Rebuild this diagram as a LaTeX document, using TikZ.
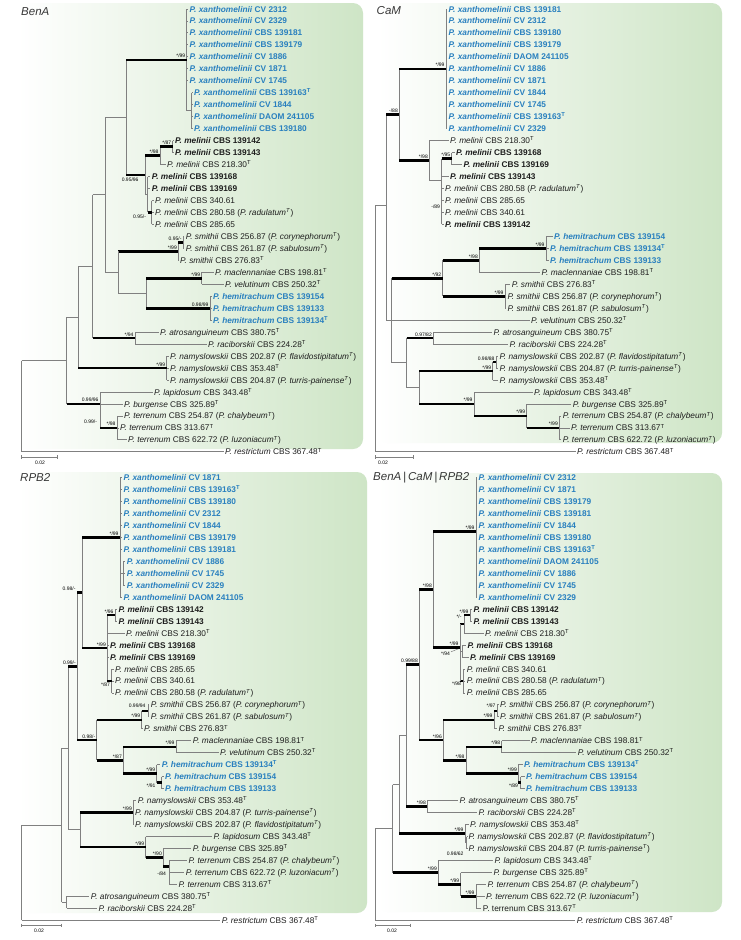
\documentclass[tikz,border=0pt]{standalone}
\usepackage{fontspec}
\setmainfont{Liberation Sans}
\definecolor{blu}{RGB}{41,128,191}
\definecolor{pg}{RGB}{206,229,198}
\definecolor{brg}{RGB}{128,128,128}
\definecolor{txt}{RGB}{30,30,30}
\definecolor{ttl}{RGB}{55,55,55}
\newcounter{nc}
\newcommand\yb{9}
\newcommand\Rw[1]{\yb+11.97*(#1)}
\newcommand\Lf[4]{\stepcounter{nc}%
  \draw[br] (#1,{\Rw{#3}}) -- ({#2-1.3},{\Rw{#3}});%
  \node[leaf] (L\arabic{nc}) at (#2,{\Rw{#3}+3}) {#4};}
\newcommand\Vb[3]{\draw[br] (#1,{#2}) -- (#1,{#3});}
\newcommand\Hb[3]{\draw[br] (#1,{#3}) -- (#2,{#3});}
\newcommand\Tk[3]{\draw[tk] (#1,{#3}) -- (#2,{#3});}
\newcommand\Tb[4]{\stepcounter{nc}\draw[tk] (#1,{#3}) -- (#2,{#3});%
  \node[slb,anchor=south east] (S\arabic{nc}) at ({#2-1},{#3-1.5}) {#4};}
\newcommand\Slab[4]{\stepcounter{nc}\node[slb,anchor=#1] (S\arabic{nc}) at (#2,{#3}) {#4};}
\newcommand\Sbar[4]{\stepcounter{nc}\draw[br,line width=0.7pt] (#1,#3) -- (#2,#3);
  \draw[br,line width=0.7pt] (#1,#3-1.8) -- (#1,#3+1.8);
  \draw[br,line width=0.7pt] (#2,#3-1.8) -- (#2,#3+1.8);
  \node[slb] (B\arabic{nc}) at (#4,#3+5.5) {0.02};}
\newcommand\xan[1]{\textcolor{blu}{\textbf{\textit{P. xanthomelinii}} \textbf{#1}}}
\newcommand\hem[1]{\textcolor{blu}{\textbf{\textit{P. hemitrachum}} \textbf{#1}}}
\newcommand\mb[1]{\textbf{\textit{P. melinii}} \textbf{#1}}
\newcommand\nm[2]{\textit{P. #1} #2}
\newcommand\ty{\textsuperscript{T}}
\newcommand\tyi{\textsuperscript{\textit{T}}}
\begin{document}
\begin{tikzpicture}[x=1pt,y=-1pt,
  br/.style={line width=0.9pt,color=brg},
  tk/.style={line width=2.6pt,black},
  leaf/.style={anchor=base west,inner sep=0pt,font=\fontsize{8.3}{10}\selectfont,text=txt},
  slb/.style={inner sep=0.3pt,font=\fontsize{5}{5}\selectfont,text=black},
  ttlst/.style={anchor=west,inner sep=0pt,font=\fontsize{11.5}{12}\selectfont\itshape,text=ttl}]
\useasboundingbox (0,0) rectangle (741,940);
\fill[white] (0,0) rectangle (741,940);
% panels
\shade[left color=white,right color=pg,rounded corners=10pt] (18,3) rectangle (363,449);
\shade[left color=white,right color=pg,rounded corners=10pt] (378,3) rectangle (722,443);
\shade[left color=white,right color=pg,rounded corners=10pt] (18,472) rectangle (367,913);
\shade[left color=white,right color=pg,rounded corners=10pt] (378,473) rectangle (722,912);
% titles
\node[ttlst] (t1) at (21,11.7) {BenA};
\node[ttlst] (t2) at (376.5,11) {CaM};
\node[ttlst] (t3) at (20,477.3) {RPB2};
\node[ttlst] (t4) at (373,477.3) {BenA\,|\,CaM\,|\,RPB2};

%%%%%%%%%%%%%%%% TREE 1 BenA
\renewcommand\yb{9}
\Vb{186.7}{\Rw{0}}{\Rw{8.5}}
\Vb{191.5}{\Rw{7}}{\Rw{10}}
\Hb{186.7}{191.5}{\Rw{8.5}}
\Vb{126}{\Rw{4.25}}{\Rw{13.875}}
\Tb{126}{186.7}{\Rw{4.25}}{*/99}
\Vb{172.7}{\Rw{11}}{\Rw{12}}
\Vb{160}{\Rw{11.5}}{\Rw{13}}
\Tb{160}{172.7}{\Rw{11.5}}{*/87}
\Vb{145}{\Rw{12.25}}{\Rw{15.5}}
\Tb{145}{160}{\Rw{12.25}}{*/98}
\Vb{147.7}{\Rw{14}}{\Rw{17}}
\Hb{145}{147.7}{\Rw{15.5}}
\Vb{151.7}{\Rw{16}}{\Rw{18}}
\Tk{147.7}{151.7}{\Rw{17}}
\Slab{east}{146.5}{217}{0.95/-}
\Tk{126}{145}{\Rw{13.875}}
\Slab{north east}{139}{\Rw{13.875}+1.8}{0.95/96}
\Hb{105}{126}{\Rw{9.0625}}
\Vb{183}{\Rw{19}}{\Rw{20}}
\Vb{178.3}{\Rw{19.5}}{\Rw{21}}
\Tb{178.3}{183}{\Rw{19.5}}{0.95/-}
\Tb{118.3}{178.3}{\Rw{20.25}}{*/99}
\Vb{201.7}{\Rw{22}}{\Rw{23}}
\Vb{210}{\Rw{24}}{\Rw{26}}
\Vb{146}{\Rw{22.5}}{\Rw{25}}
\Tb{146}{201.7}{\Rw{22.5}}{*/99}
\Tb{146}{210}{\Rw{25}}{0.98/99}
\Hb{118.3}{146}{\Rw{23.75}}
\Vb{118.3}{\Rw{20.25}}{\Rw{23.75}}
\Hb{105}{118.3}{\Rw{22}}
\Vb{105}{\Rw{9.0625}}{\Rw{22}}
\Hb{92.7}{105}{\Rw{15.53}}
\Vb{135}{\Rw{27}}{\Rw{28}}
\Vb{92.7}{\Rw{15.53}}{\Rw{27.5}}
\Tb{92.7}{135}{\Rw{27.5}}{*/94}
\Hb{78.3}{92.7}{\Rw{21.515}}
\Vb{166.7}{\Rw{29}}{\Rw{31}}
\Vb{78.3}{\Rw{21.515}}{\Rw{30}}
\Tb{78.3}{166.7}{\Rw{30}}{*/99}
\Hb{66.7}{78.3}{\Rw{25.76}}
\Vb{117}{\Rw{34}}{\Rw{36}}
\Vb{100}{\Rw{32}}{\Rw{35}}
\Tb{100}{117}{\Rw{35}}{*/98}
\Slab{east}{97.5}{421.5}{0.99/-}
\Vb{66.7}{\Rw{25.76}}{\Rw{33}}
\Tb{66.7}{100}{\Rw{33}}{0.99/96}
\Hb{21.7}{66.7}{\Rw{29.38}}
\Vb{21.7}{\Rw{29.38}}{\Rw{37}}
\Lf{186.7}{189.5}{0}{\xan{CV 2312}}
\Lf{186.7}{189.5}{1}{\xan{CV 2329}}
\Lf{186.7}{189.5}{2}{\xan{CBS 139181}}
\Lf{186.7}{189.5}{3}{\xan{CBS 139179}}
\Lf{186.7}{189.5}{4}{\xan{CV 1886}}
\Lf{186.7}{189.5}{5}{\xan{CV 1871}}
\Lf{186.7}{189.5}{6}{\xan{CV 1745}}
\Lf{191.5}{194}{7}{\xan{CBS 139163\ty}}
\Lf{191.5}{194}{8}{\xan{CV 1844}}
\Lf{191.5}{194}{9}{\xan{DAOM 241105}}
\Lf{191.5}{194}{10}{\xan{CBS 139180}}
\Lf{172.7}{175}{11}{\mb{CBS 139142}}
\Lf{172.7}{175}{12}{\mb{CBS 139143}}
\Lf{160}{167}{13}{\nm{melinii}{CBS 218.30\ty}}
\Lf{147.7}{151.7}{14}{\mb{CBS 139168}}
\Lf{147.7}{151.7}{15}{\mb{CBS 139169}}
\Lf{151.7}{155}{16}{\nm{melinii}{CBS 340.61}}
\Lf{151.7}{155}{17}{\nm{melinii}{CBS 280.58 (\textit{P. radulatum}\tyi)}}
\Lf{151.7}{155}{18}{\nm{melinii}{CBS 285.65}}
\Lf{183}{185.7}{19}{\nm{smithii}{CBS 256.87 (\textit{P. corynephorum}\tyi)}}
\Lf{183}{185.7}{20}{\nm{smithii}{CBS 261.87 (\textit{P. sabulosum}\tyi)}}
\Lf{178.3}{180}{21}{\nm{smithii}{CBS 276.83\ty}}
\Lf{201.7}{215}{22}{\nm{maclennaniae}{CBS 198.81\ty}}
\Lf{201.7}{225}{23}{\nm{velutinum}{CBS 250.32\ty}}
\Lf{210}{213}{24}{\hem{CBS 139154}}
\Lf{210}{213}{25}{\hem{CBS 139133}}
\Lf{210}{213}{26}{\hem{CBS 139134\ty}}
\Lf{135}{160}{27}{\nm{atrosanguineum}{CBS 380.75\ty}}
\Lf{135}{208}{28}{\nm{raciborskii}{CBS 224.28\ty}}
\Lf{166.7}{170}{29}{\nm{namyslowskii}{CBS 202.87 (\textit{P. flavidostipitatum}\tyi)}}
\Lf{166.7}{170}{30}{\nm{namyslowskii}{CBS 353.48\ty}}
\Lf{166.7}{170}{31}{\nm{namyslowskii}{CBS 204.87 (\textit{P. turris-painense}\tyi)}}
\Lf{100}{154}{32}{\nm{lapidosum}{CBS 343.48\ty}}
\Lf{100}{124}{33}{\nm{burgense}{CBS 325.89\ty}}
\Lf{117}{124}{34}{\nm{terrenum}{CBS 254.87 (\textit{P. chalybeum}\tyi)}}
\Lf{117}{120}{35}{\nm{terrenum}{CBS 313.67\ty}}
\Lf{117}{128}{36}{\nm{terrenum}{CBS 622.72 (\textit{P. luzoniacum}\tyi)}}
\Lf{21.7}{225}{37}{\nm{restrictum}{CBS 367.48\ty}}
\Sbar{21.7}{57.3}{457}{40}

%%%%%%%%%%%%%%%% TREE 2 CaM
\renewcommand\yb{9}
\Vb{446}{\Rw{0}}{\Rw{10}}
\Vb{399.3}{\Rw{5}}{160.3}
\Tb{399.3}{446}{\Rw{5}}{*/99}
\Vb{451.7}{\Rw{12}}{\Rw{13}}
\Vb{441.7}{\Rw{12.5}}{\Rw{18}}
\Tb{441.7}{451.7}{\Rw{12.5}}{*/95}
\Vb{429.3}{\Rw{11}}{180}
\Hb{429.3}{441.7}{180}
\Tb{399.3}{429.3}{160.3}{*/98}
\Slab{east}{440.5}{206.7}{-/89}
\Vb{386}{114.6}{\Rw{26.03}}
\Tb{386}{399.3}{114.6}{-/88}
\Vb{546}{\Rw{19}}{\Rw{21}}
\Vb{479.3}{\Rw{20}}{\Rw{22}}
\Tb{479.3}{546}{\Rw{20}}{*/99}
\Vb{505}{\Rw{23}}{\Rw{25}}
\Vb{442.7}{\Rw{21}}{\Rw{24}}
\Tb{442.7}{479.3}{\Rw{21}}{*/98}
\Tb{442.7}{505}{\Rw{24}}{*/99}
\Vb{391.7}{\Rw{22.5}}{\Rw{29.56}}
\Tb{391.7}{442.7}{\Rw{22.5}}{*/92}
\Hb{386}{391.7}{\Rw{26.03}}
\Vb{433.3}{\Rw{27}}{\Rw{28}}
\Vb{406.7}{\Rw{27.5}}{\Rw{31.625}}
\Tb{406.7}{433.3}{\Rw{27.5}}{0.97/82}
\Hb{391.7}{406.7}{\Rw{29.56}}
\Vb{496}{\Rw{29}}{\Rw{30}}
\Vb{492.7}{\Rw{29.5}}{\Rw{31}}
\Tb{492.7}{496}{\Rw{29.5}}{0.98/88}
\Vb{419.3}{\Rw{30.25}}{\Rw{33}}
\Tb{419.3}{492.7}{\Rw{30.25}}{*/99}
\Hb{406.7}{419.3}{\Rw{31.625}}
\Vb{559.3}{\Rw{34}}{\Rw{36}}
\Vb{526.7}{\Rw{33}}{\Rw{35}}
\Tb{526.7}{559.3}{\Rw{35}}{*/99}
\Vb{474}{\Rw{32}}{\Rw{34}}
\Tb{474}{526.7}{\Rw{34}}{*/99}
\Tb{419.3}{474}{\Rw{33}}{*/99}
\Hb{375}{386}{205}
\Vb{375}{205}{\Rw{37}}
\Lf{446}{448.5}{0}{\xan{CBS 139181}}
\Lf{446}{448.5}{1}{\xan{CV 2312}}
\Lf{446}{448.5}{2}{\xan{CBS 139180}}
\Lf{446}{448.5}{3}{\xan{CBS 139179}}
\Lf{446}{448.5}{4}{\xan{DAOM 241105}}
\Lf{446}{448.5}{5}{\xan{CV 1886}}
\Lf{446}{448.5}{6}{\xan{CV 1871}}
\Lf{446}{448.5}{7}{\xan{CV 1844}}
\Lf{446}{448.5}{8}{\xan{CV 1745}}
\Lf{446}{448.5}{9}{\xan{CBS 139163\ty}}
\Lf{446}{448.5}{10}{\xan{CV 2329}}
\Lf{429.3}{450}{11}{\nm{melinii}{CBS 218.30\ty}}
\Lf{451.7}{456}{12}{\mb{CBS 139168}}
\Lf{451.7}{463.5}{13}{\mb{CBS 139169}}
\Lf{441.7}{450}{14}{\mb{CBS 139143}}
\Lf{441.7}{445}{15}{\nm{melinii}{CBS 280.58 (\textit{P. radulatum}\tyi)}}
\Lf{441.7}{445}{16}{\nm{melinii}{CBS 285.65}}
\Lf{441.7}{445}{17}{\nm{melinii}{CBS 340.61}}
\Lf{441.7}{445}{18}{\mb{CBS 139142}}
\Lf{546}{554}{19}{\hem{CBS 139154}}
\Lf{546}{550}{20}{\hem{CBS 139134\ty}}
\Lf{546}{550}{21}{\hem{CBS 139133}}
\Lf{479.3}{541.5}{22}{\nm{maclennaniae}{CBS 198.81\ty}}
\Lf{505}{511.7}{23}{\nm{smithii}{CBS 276.83\ty}}
\Lf{505}{507.3}{24}{\nm{smithii}{CBS 256.87 (\textit{P. corynephorum}\tyi)}}
\Lf{505}{507.3}{25}{\nm{smithii}{CBS 261.87 (\textit{P. sabulosum}\tyi)}}
\Lf{391.7}{531}{26}{\nm{velutinum}{CBS 250.32\ty}}
\Lf{433.3}{493.3}{27}{\nm{atrosanguineum}{CBS 380.75\ty}}
\Lf{433.3}{509.3}{28}{\nm{raciborskii}{CBS 224.28\ty}}
\Lf{496}{499.3}{29}{\nm{namyslowskii}{CBS 202.87 (\textit{P. flavidostipitatum}\tyi)}}
\Lf{496}{499.3}{30}{\nm{namyslowskii}{CBS 204.87 (\textit{P. turris-painense}\tyi)}}
\Lf{492.7}{499.3}{31}{\nm{namyslowskii}{CBS 353.48\ty}}
\Lf{474}{534}{32}{\nm{lapidosum}{CBS 343.48\ty}}
\Lf{526.7}{572.7}{33}{\nm{burgense}{CBS 325.89\ty}}
\Lf{559.3}{562.7}{34}{\nm{terrenum}{CBS 254.87 (\textit{P. chalybeum}\tyi)}}
\Lf{559.3}{571}{35}{\nm{terrenum}{CBS 313.67\ty}}
\Lf{559.3}{562.7}{36}{\nm{terrenum}{CBS 622.72 (\textit{P. luzoniacum}\tyi)}}
\Lf{375}{577}{37}{\nm{restrictum}{CBS 367.48\ty}}
\Sbar{375}{413.3}{457}{383}

%%%%%%%%%%%%%%%% TREE 3 RPB2
\renewcommand\yb{477.5}
\Vb{120}{\Rw{0}}{\Rw{10}}
\Vb{123}{\Rw{7}}{\Rw{9}}
\Hb{120}{123}{\Rw{8}}
\Vb{82.3}{\Rw{5}}{\Rw{14.25}}
\Tb{82.3}{120}{\Rw{5}}{*/99}
\Vb{115}{\Rw{11}}{\Rw{12}}
\Vb{111.7}{\Rw{16}}{\Rw{18}}
\Vb{107.3}{\Rw{11.5}}{\Rw{17}}
\Tb{107.3}{115}{\Rw{11.5}}{*/96}
\Tk{107.3}{111.7}{\Rw{17}}
\Slab{east}{110.5}{684.3}{*/87}
\Tb{82.3}{107.3}{\Rw{14.25}}{*/99}
\Vb{148.3}{\Rw{19}}{\Rw{20}}
\Vb{141.7}{\Rw{19.5}}{\Rw{21}}
\Tk{141.7}{148.3}{\Rw{19.5}}
\Slab{south east}{146}{\Rw{19.5}-2.5}{0.99/94}
\Tb{96.7}{141.7}{\Rw{20.25}}{*/99}
\Vb{176}{\Rw{22}}{\Rw{23}}
\Vb{161.7}{\Rw{25}}{\Rw{26}}
\Vb{156.7}{\Rw{24}}{\Rw{25.5}}
\Tk{156.7}{161.7}{\Rw{25.5}}
\Slab{east}{156}{786}{*/91}
\Vb{123.3}{\Rw{22.5}}{\Rw{24.75}}
\Tb{123.3}{176}{\Rw{22.5}}{*/99}
\Tb{123.3}{156.7}{\Rw{24.75}}{*/99}
\Vb{96.7}{\Rw{20.25}}{\Rw{23.625}}
\Tb{96.7}{123.3}{\Rw{23.625}}{*/87}
\Vb{77.3}{\Rw{9.625}}{\Rw{21.94}}
\Tk{77.3}{82.3}{\Rw{9.625}}
\Slab{south east}{76}{\Rw{9.625}-1.5}{0.98/-}
\Tb{77.3}{96.7}{\Rw{21.94}}{0.98/-}
\Vb{68.3}{\Rw{15.78}}{\Rw{29.44}}
\Tb{68.3}{77.3}{\Rw{15.78}}{0.99/-}
\Vb{133.3}{\Rw{27}}{\Rw{29}}
\Vb{169}{\Rw{32}}{\Rw{34}}
\Vb{163.3}{\Rw{31}}{\Rw{32.5}}
\Tk{163.3}{169}{\Rw{32.5}}
\Slab{east}{166.5}{873.5}{-/84}
\Vb{145.7}{\Rw{30}}{\Rw{31.75}}
\Tb{145.7}{163.3}{\Rw{31.75}}{*/90}
\Vb{80}{\Rw{28}}{\Rw{30.875}}
\Tb{80}{133.3}{\Rw{28}}{*/99}
\Tb{80}{145.7}{\Rw{30.875}}{*/99}
\Hb{68.3}{80}{\Rw{29.44}}
\Vb{66.7}{\Rw{35}}{\Rw{36}}
\Vb{61.7}{\Rw{22.61}}{\Rw{35.5}}
\Hb{61.7}{68.3}{\Rw{22.61}}
\Hb{61.7}{66.7}{\Rw{35.5}}
\Hb{21.7}{61.7}{\Rw{29.06}}
\Vb{21.7}{\Rw{29.06}}{\Rw{37}}
\Lf{120}{123.3}{0}{\xan{CV 1871}}
\Lf{120}{123.3}{1}{\xan{CBS 139163\ty}}
\Lf{120}{123.3}{2}{\xan{CBS 139180}}
\Lf{120}{123.3}{3}{\xan{CV 2312}}
\Lf{120}{123.3}{4}{\xan{CV 1844}}
\Lf{120}{123.3}{5}{\xan{CBS 139179}}
\Lf{120}{123.3}{6}{\xan{CBS 139181}}
\Lf{123}{126.7}{7}{\xan{CV 1886}}
\Lf{123}{126.7}{8}{\xan{CV 1745}}
\Lf{123}{126.7}{9}{\xan{CV 2329}}
\Lf{120}{123.3}{10}{\xan{DAOM 241105}}
\Lf{115}{118.3}{11}{\mb{CBS 139142}}
\Lf{115}{118.3}{12}{\mb{CBS 139143}}
\Lf{107.3}{126}{13}{\nm{melinii}{CBS 218.30\ty}}
\Lf{107.3}{110}{14}{\mb{CBS 139168}}
\Lf{107.3}{110}{15}{\mb{CBS 139169}}
\Lf{111.7}{115}{16}{\nm{melinii}{CBS 285.65}}
\Lf{111.7}{115}{17}{\nm{melinii}{CBS 340.61}}
\Lf{111.7}{115}{18}{\nm{melinii}{CBS 280.58 (\textit{P. radulatum}\tyi)}}
\Lf{148.3}{150.7}{19}{\nm{smithii}{CBS 256.87 (\textit{P. corynephorum}\tyi)}}
\Lf{148.3}{150.7}{20}{\nm{smithii}{CBS 261.87 (\textit{P. sabulosum}\tyi)}}
\Lf{141.7}{144}{21}{\nm{smithii}{CBS 276.83\ty}}
\Lf{176}{192.7}{22}{\nm{maclennaniae}{CBS 198.81\ty}}
\Lf{176}{220}{23}{\nm{velutinum}{CBS 250.32\ty}}
\Lf{156.7}{161.7}{24}{\hem{CBS 139134\ty}}
\Lf{161.7}{165}{25}{\hem{CBS 139154}}
\Lf{161.7}{165}{26}{\hem{CBS 139133}}
\Lf{133.3}{137.7}{27}{\nm{namyslowskii}{CBS 353.48\ty}}
\Lf{133.3}{135}{28}{\nm{namyslowskii}{CBS 204.87 (\textit{P. turris-painense}\tyi)}}
\Lf{133.3}{135}{29}{\nm{namyslowskii}{CBS 202.87 (\textit{P. flavidostipitatum}\tyi)}}
\Lf{145.7}{213.3}{30}{\nm{lapidosum}{CBS 343.48\ty}}
\Lf{163.3}{192.7}{31}{\nm{burgense}{CBS 325.89\ty}}
\Lf{169}{188.3}{32}{\nm{terrenum}{CBS 254.87 (\textit{P. chalybeum}\tyi)}}
\Lf{169}{185.7}{33}{\nm{terrenum}{CBS 622.72 (\textit{P. luzoniacum}\tyi)}}
\Lf{169}{178.3}{34}{\nm{terrenum}{CBS 313.67\ty}}
\Lf{66.7}{90.7}{35}{\nm{atrosanguineum}{CBS 380.75\ty}}
\Lf{66.7}{98.3}{36}{\nm{raciborskii}{CBS 224.28\ty}}
\Lf{21.7}{221.7}{37}{\nm{restrictum}{CBS 367.48\ty}}
\Sbar{21.7}{61}{925.5}{39}

%%%%%%%%%%%%%%%% TREE 4 combined
\renewcommand\yb{477.5}
\Vb{476}{\Rw{0}}{\Rw{10}}
\Vb{433.3}{\Rw{4.5}}{\Rw{14.2}}
\Tb{433.3}{476}{\Rw{4.5}}{*/99}
\Vb{470}{\Rw{11}}{\Rw{12}}
\Vb{464}{\Rw{11.5}}{\Rw{13}}
\Tb{464}{470}{\Rw{11.5}}{*/99}
\Tk{460}{464}{\Rw{12.25}}
\Slab{east}{462}{617}{*/-}
\Vb{462}{\Rw{14}}{\Rw{15}}
\Hb{460}{462}{\Rw{14.5}}
\Slab{east}{450.5}{653.3}{*/94}
\draw[br,line width=0.5pt] (451,651.8) -- (460.8,647.8);
\Vb{463}{\Rw{16}}{\Rw{18}}
\Tk{460}{463}{\Rw{17}}
\Slab{east}{461.5}{683.5}{*/98}
\Vb{460}{\Rw{12.25}}{\Rw{17}}
\Tb{433.3}{460}{\Rw{14.2}}{*/99}
\Vb{419.3}{\Rw{9.35}}{\Rw{21.94}}
\Tb{419.3}{433.3}{\Rw{9.35}}{*/98}
\Vb{497.3}{\Rw{19}}{\Rw{20}}
\Vb{494}{\Rw{19.5}}{\Rw{21}}
\Tk{494}{497.3}{\Rw{19.5}}
\Slab{south east}{496}{\Rw{19.5}-3}{*/97}
\Vb{501.7}{\Rw{22}}{\Rw{23}}
\Vb{520.7}{\Rw{25}}{\Rw{26}}
\Vb{518.3}{\Rw{24}}{\Rw{25.5}}
\Tk{518.3}{520.7}{\Rw{25.5}}
\Slab{east}{518.5}{785.5}{*/89}
\Vb{466}{\Rw{22.5}}{\Rw{24.75}}
\Tb{466}{501.7}{\Rw{22.5}}{*/98}
\Tb{466}{518.3}{\Rw{24.75}}{*/99}
\Vb{443.3}{\Rw{20.25}}{\Rw{23.625}}
\Tb{443.3}{494}{\Rw{20.25}}{*/99}
\Tb{443.3}{466}{\Rw{23.625}}{*/98}
\Tb{419.3}{443.3}{\Rw{21.94}}{*/96}
\Vb{406}{\Rw{15.64}}{\Rw{27.5}}
\Tb{406}{419.3}{\Rw{15.64}}{0.99/88}
\Vb{427.3}{\Rw{27}}{\Rw{28}}
\Tb{406}{427.3}{\Rw{27.5}}{*/98}
\Vb{466.7}{\Rw{30}}{\Rw{31}}
\Vb{465}{\Rw{29}}{\Rw{30.5}}
\Hb{465}{466.7}{\Rw{30.5}}
\Slab{east}{464}{853.5}{0.98/62}
\Vb{399.3}{\Rw{21.57}}{\Rw{29.75}}
\Hb{399.3}{406}{\Rw{21.57}}
\Tb{399.3}{465}{\Rw{29.75}}{*/99}
\Vb{476}{\Rw{34}}{\Rw{36}}
\Vb{460.7}{\Rw{33}}{\Rw{35}}
\Vb{438.3}{\Rw{32}}{\Rw{34}}
\Tb{460.7}{476}{\Rw{35}}{*/99}
\Tb{438.3}{460.7}{\Rw{34}}{*/99}
\Vb{392.7}{\Rw{25.66}}{\Rw{33}}
\Hb{392.7}{399.3}{\Rw{25.66}}
\Tb{392.7}{438.3}{\Rw{33}}{*/99}
\Hb{375}{392.7}{\Rw{29.33}}
\Vb{375}{\Rw{29.33}}{\Rw{37}}
\Lf{476}{478.5}{0}{\xan{CV 2312}}
\Lf{476}{478.5}{1}{\xan{CV 1871}}
\Lf{476}{478.5}{2}{\xan{CBS 139179}}
\Lf{476}{478.5}{3}{\xan{CBS 139181}}
\Lf{476}{478.5}{4}{\xan{CV 1844}}
\Lf{476}{478.5}{5}{\xan{CBS 139180}}
\Lf{476}{478.5}{6}{\xan{CBS 139163\ty}}
\Lf{476}{478.5}{7}{\xan{DAOM 241105}}
\Lf{476}{478.5}{8}{\xan{CV 1886}}
\Lf{476}{478.5}{9}{\xan{CV 1745}}
\Lf{476}{478.5}{10}{\xan{CV 2329}}
\Lf{470}{473.3}{11}{\mb{CBS 139142}}
\Lf{470}{473.3}{12}{\mb{CBS 139143}}
\Lf{464}{485}{13}{\nm{melinii}{CBS 218.30\ty}}
\Lf{462}{467.3}{14}{\mb{CBS 139168}}
\Lf{462}{470}{15}{\mb{CBS 139169}}
\Lf{463}{466.7}{16}{\nm{melinii}{CBS 340.61}}
\Lf{463}{466.7}{17}{\nm{melinii}{CBS 280.58 (\textit{P. radulatum}\tyi)}}
\Lf{463}{466.7}{18}{\nm{melinii}{CBS 285.65}}
\Lf{497.3}{500}{19}{\nm{smithii}{CBS 256.87 (\textit{P. corynephorum}\tyi)}}
\Lf{497.3}{500}{20}{\nm{smithii}{CBS 261.87 (\textit{P. sabulosum}\tyi)}}
\Lf{494}{498.3}{21}{\nm{smithii}{CBS 276.83\ty}}
\Lf{501.7}{531}{22}{\nm{maclennaniae}{CBS 198.81\ty}}
\Lf{501.7}{577.7}{23}{\nm{velutinum}{CBS 250.32\ty}}
\Lf{518.3}{524}{24}{\hem{CBS 139134\ty}}
\Lf{520.7}{526}{25}{\hem{CBS 139154}}
\Lf{520.7}{526}{26}{\hem{CBS 139133}}
\Lf{427.3}{459.3}{27}{\nm{atrosanguineum}{CBS 380.75\ty}}
\Lf{427.3}{478.3}{28}{\nm{raciborskii}{CBS 224.28\ty}}
\Lf{465}{470}{29}{\nm{namyslowskii}{CBS 353.48\ty}}
\Lf{466.7}{468.3}{30}{\nm{namyslowskii}{CBS 202.87 (\textit{P. flavidostipitatum}\tyi)}}
\Lf{466.7}{468.3}{31}{\nm{namyslowskii}{CBS 204.87 (\textit{P. turris-painense}\tyi)}}
\Lf{438.3}{494.3}{32}{\nm{lapidosum}{CBS 343.48\ty}}
\Lf{460.7}{493.3}{33}{\nm{burgense}{CBS 325.89\ty}}
\Lf{476}{487.3}{34}{\nm{terrenum}{CBS 254.87 (\textit{P. chalybeum}\tyi)}}
\Lf{476}{486}{35}{\nm{terrenum}{CBS 622.72 (\textit{P. luzoniacum}\tyi)}}
\Lf{476}{482.7}{36}{P. terrenum CBS 313.67\ty}
\Lf{375}{576.7}{37}{\nm{restrictum}{CBS 367.48\ty}}
\Sbar{375}{410.7}{925.5}{392}
\end{tikzpicture}
\end{document}
